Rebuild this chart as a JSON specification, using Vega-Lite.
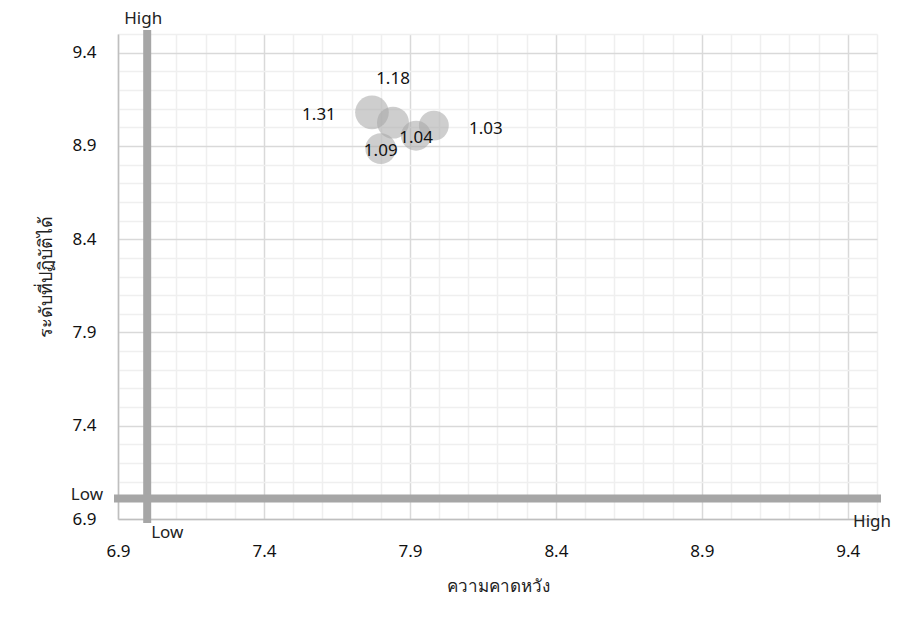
{
  "$schema": "https://vega.github.io/schema/vega-lite/v6.json",
  "width": 759,
  "height": 485,
  "autosize": {"type": "none"},
  "padding": {"left": 118, "top": 34, "right": 22, "bottom": 103},
  "background": "white",
  "config": {
    "view": {"stroke": null},
    "font": "Noto Sans"
  },
  "layer": [
    {
      "data": {"values": [
        {"x": 6.9, "x2": 9.5, "y": 7.01, "y2": 7.01},
        {"x": 7.0, "x2": 7.0, "y": 6.9, "y2": 9.5}
      ]},
      "mark": {"type": "rule", "color": "#a6a6a6", "strokeWidth": 8, "strokeCap": "square"},
      "encoding": {
        "x": {
          "field": "x", "type": "quantitative",
          "scale": {"domain": [6.9, 9.5], "nice": false, "zero": false},
          "axis": {
            "title": "ความคาดหวัง",
            "titleFont": "Noto Sans",
            "titleFontSize": 17,
            "titleFontWeight": "normal",
            "titleColor": "#222222",
            "titlePadding": 19,
            "values": [6.9, 7.0, 7.1, 7.2, 7.3, 7.4, 7.5, 7.6, 7.7, 7.8, 7.9, 8.0, 8.1, 8.2, 8.3, 8.4, 8.5, 8.6, 8.7, 8.8, 8.9, 9.0, 9.1, 9.2, 9.3, 9.4, 9.5],
            "tickCount": 100,
            "format": ".1f",
            "labelExpr": "round(datum.value * 10) % 5 == 4 ? datum.label : ''",
            "labelFontSize": 17,
            "labelColor": "#111111",
            "labelPadding": 24,
            "labelFlush": false,
            "labelOverlap": false,
            "ticks": false,
            "domainColor": "#bfbfbf",
            "domainWidth": 1.5,
            "grid": true,
            "gridColor": {"condition": {"test": "round(datum.value * 10) % 5 == 4", "value": "#d9d9d9"}, "value": "#efefef"},
            "gridWidth": 1.5
          }
        },
        "x2": {"field": "x2"},
        "y": {
          "field": "y", "type": "quantitative",
          "scale": {"domain": [6.9, 9.5], "nice": false, "zero": false},
          "axis": {
            "title": "ระดับที่ปฏิบัติได้",
            "titleFont": "Noto Sans",
            "titleFontSize": 18,
            "titleFontWeight": "normal",
            "titleColor": "#222222",
            "titlePadding": 16,
            "values": [6.9, 7.0, 7.1, 7.2, 7.3, 7.4, 7.5, 7.6, 7.7, 7.8, 7.9, 8.0, 8.1, 8.2, 8.3, 8.4, 8.5, 8.6, 8.7, 8.8, 8.9, 9.0, 9.1, 9.2, 9.3, 9.4, 9.5],
            "tickCount": 100,
            "format": ".1f",
            "labelExpr": "round(datum.value * 10) % 5 == 4 ? datum.label : ''",
            "labelFontSize": 17,
            "labelColor": "#111111",
            "labelPadding": 22,
            "labelFlush": false,
            "labelOverlap": false,
            "ticks": false,
            "domainColor": "#bfbfbf",
            "domainWidth": 1.5,
            "grid": true,
            "gridColor": {"condition": {"test": "round(datum.value * 10) % 5 == 4", "value": "#d9d9d9"}, "value": "#efefef"},
            "gridWidth": 1.5
          }
        },
        "y2": {"field": "y2"}
      }
    },
    {
      "data": {"values": [
        {"expectation": 7.77, "performance": 9.08, "ratio": 1.31, "labelPos": "left"},
        {"expectation": 7.842, "performance": 9.025, "ratio": 1.18, "labelPos": "above"},
        {"expectation": 7.982, "performance": 9.009, "ratio": 1.03, "labelPos": "right"},
        {"expectation": 7.921, "performance": 8.955, "ratio": 1.04, "labelPos": "center"},
        {"expectation": 7.80, "performance": 8.886, "ratio": 1.09, "labelPos": "center"}
      ]},
      "encoding": {
        "x": {"field": "expectation", "type": "quantitative"},
        "y": {"field": "performance", "type": "quantitative"}
      },
      "layer": [
        {
          "mark": {"type": "circle", "color": "#a6a6a6", "opacity": 0.55},
          "encoding": {
            "size": {"field": "ratio", "type": "quantitative", "legend": null,
              "scale": {"domain": [0, 1.31], "range": [0, 1134], "zero": true}}
          }
        },
        {
          "transform": [{"filter": "datum.labelPos == 'left'"}],
          "mark": {"type": "text", "fontSize": 17, "color": "#111111", "dx": -53, "dy": 3},
          "encoding": {"text": {"field": "ratio", "type": "quantitative", "format": ".2f"}}
        },
        {
          "transform": [{"filter": "datum.labelPos == 'above'"}],
          "mark": {"type": "text", "fontSize": 17, "color": "#111111", "dy": -44},
          "encoding": {"text": {"field": "ratio", "type": "quantitative", "format": ".2f"}}
        },
        {
          "transform": [{"filter": "datum.labelPos == 'right'"}],
          "mark": {"type": "text", "fontSize": 17, "color": "#111111", "dx": 52, "dy": 3},
          "encoding": {"text": {"field": "ratio", "type": "quantitative", "format": ".2f"}}
        },
        {
          "transform": [{"filter": "datum.labelPos == 'center'"}],
          "mark": {"type": "text", "fontSize": 17, "color": "#111111", "dy": 2},
          "encoding": {"text": {"field": "ratio", "type": "quantitative", "format": ".2f"}}
        }
      ]
    },
    {
      "data": {"values": [{"x": 7.0, "y": 9.5, "label": "High"}]},
      "mark": {"type": "text", "fontSize": 17, "color": "#222222", "align": "center", "baseline": "alphabetic", "dx": -4, "dy": -10},
      "encoding": {
        "x": {"field": "x", "type": "quantitative"},
        "y": {"field": "y", "type": "quantitative"},
        "text": {"field": "label"}
      }
    },
    {
      "data": {"values": [{"x": 7.0, "y": 6.9, "label": "Low"}]},
      "mark": {"type": "text", "fontSize": 17, "color": "#222222", "align": "left", "baseline": "top", "dx": 4, "dy": 6},
      "encoding": {
        "x": {"field": "x", "type": "quantitative"},
        "y": {"field": "y", "type": "quantitative"},
        "text": {"field": "label"}
      }
    },
    {
      "data": {"values": [{"x": 6.9, "y": 7.01, "label": "Low"}]},
      "mark": {"type": "text", "fontSize": 17, "color": "#222222", "align": "right", "baseline": "middle", "dx": -15, "dy": -3},
      "encoding": {
        "x": {"field": "x", "type": "quantitative"},
        "y": {"field": "y", "type": "quantitative"},
        "text": {"field": "label"}
      }
    },
    {
      "data": {"values": [{"x": 9.5, "y": 7.01, "label": "High"}]},
      "mark": {"type": "text", "fontSize": 17, "color": "#222222", "align": "center", "baseline": "top", "dx": -5, "dy": 16},
      "encoding": {
        "x": {"field": "x", "type": "quantitative"},
        "y": {"field": "y", "type": "quantitative"},
        "text": {"field": "label"}
      }
    }
  ]
}
